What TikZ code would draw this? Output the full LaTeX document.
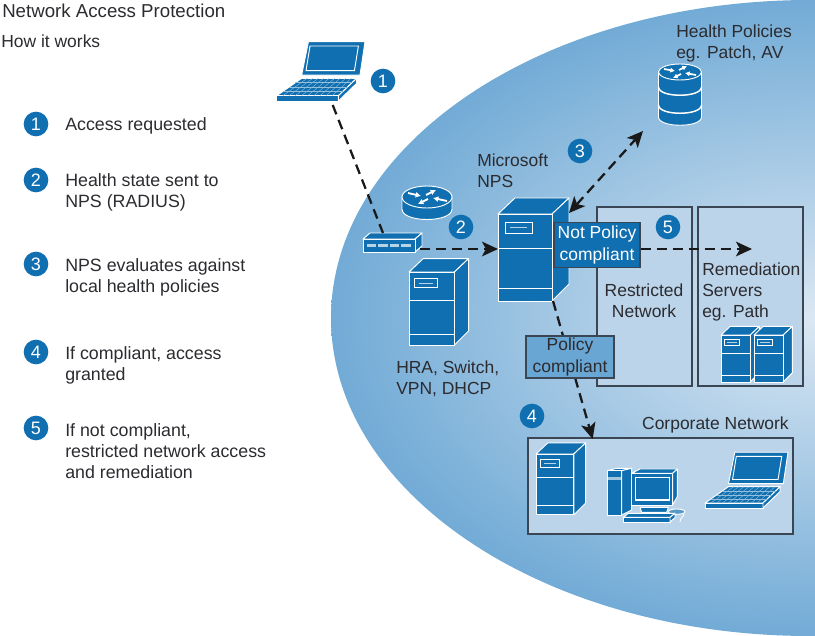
\documentclass[tikz,border=0pt]{standalone}
\usepackage{fontspec}
\setmainfont{Liberation Sans}
\usepackage{xcolor}
\usepackage{tikz}
\usetikzlibrary{arrows.meta}
\definecolor{devblue}{HTML}{0F6FB0}
\definecolor{netfill}{HTML}{BCD4EA}
\definecolor{capfill}{HTML}{6AA6D3}
\definecolor{hazeedge}{HTML}{72ABD6}
\definecolor{inkdark}{HTML}{2B2B30}
\definecolor{edgedark}{HTML}{3A4654}
\tikzset{
	txt/.style = {text=inkdark, font=\fontsize{13.1}{15.75}\selectfont, inner sep=0pt, align=left, yshift=-1.5pt},
	legendtxt/.style = {txt, anchor=west, font=\fontsize{13.35}{15.75}\selectfont},
	disc/.style = {circle, fill=devblue, text=white, minimum size=18.5pt, inner sep=0pt, font=\fontsize{13.5}{16}\selectfont},
	netbox/.style = {draw=edgedark, fill=netfill, line width=.9pt, inner sep=0pt},
	capbox/.style = {draw=edgedark, line width=1pt, inner sep=0pt, align=center, font=\fontsize{13.1}{16}\selectfont},
	dev/.style = {fill=devblue, draw=white, line width=.7pt, line join=round},
	dashline/.style = {draw=black!90, line width=1.7pt, dash pattern=on 7.5pt off 4.5pt},
	tip/.style = {-{Stealth[length=12pt,width=11pt,inset=3pt]}},
	tiptwo/.style = {{Stealth[length=12pt,width=11pt,inset=3pt]}-{Stealth[length=12pt,width=11pt,inset=3pt]}},
	towerbox/.pic = {
		\path[dev] (0,0) -- (17,-16) -- (71,-16) -- (54,0) -- cycle;
		\path[dev] (54,0) -- (71,-16) -- (71,70) -- (54,87) -- cycle;
		\path[dev] (0,0) rectangle (54,87);
		\draw[white, line width=.6pt] (0,34) -- (54,34) (0,74) -- (54,74);
		\draw[white, line width=.7pt] (7,8) rectangle (34,19);
		\draw[white!70!devblue, line width=.8pt] (12,13.5) -- (29,13.5);
		\coordinate (-west) at (0,35);
		\coordinate (-corner) at (71,-1);
		\coordinate (-south) at (55,87);
	},
	laptopbox/.pic = {
		\path[dev] (31.7,-59.3) -- (88.3,-59.3) -- (83.3,-26) -- (25,-26) -- cycle;
		\draw[white, line width=.7pt] (33.3,-55) -- (81.7,-55) -- (77.7,-30.3) -- (29.3,-30.3) -- cycle;
		\path[dev] (25,-22.7) -- (80,-22.7) -- (61.7,-5.3) -- (0,-5.3) -- cycle;
		\path[dev] (0,-5.3) -- (61.7,-5.3) -- (61.7,0) -- (0,0) -- cycle;
		\path[dev] (61.7,-5.3) -- (80,-22.7) -- (80,-17.7) -- (61.7,0) -- cycle;
		\foreach \rowk in {.25,.5,.75}
			\draw[white!55!devblue, line width=.3pt] ({25-25*\rowk},{-22.7+17.4*\rowk}) -- ({80-18.3*\rowk},{-22.7+17.4*\rowk});
		\foreach \colk in {.1,.2,...,.9}
			\draw[white!55!devblue, line width=.3pt] ({25+55*\colk},-22.7) -- ({61.7*\colk},-5.3);
		\coordinate (-south) at (56,4);
	},
	routerbox/.pic = {
		\path[dev] (-25,0) -- (-25,12) .. controls (-25,26) and (25,26) .. (25,12) -- (25,0) -- cycle;
		\path[dev] (0,0) ellipse [x radius=25, y radius=11];
		\draw[white, line width=1.4pt, -{Latex[length=4pt,width=4.5pt]}] (-19,-4) -- (-6,-1);
		\draw[white, line width=1.4pt, -{Latex[length=4pt,width=4.5pt]}] (-1,-2) -- (9,-7);
		\draw[white, line width=1.4pt, -{Latex[length=4pt,width=4.5pt]}] (20,4) -- (6,1);
		\draw[white, line width=1.4pt, -{Latex[length=4pt,width=4.5pt]}] (1,2) -- (-9,7);
	},
	policybox/.pic = {
		\path[dev] (-21.5,0) -- (-21.5,45) .. controls (-21.5,56) and (21.5,56) .. (21.5,45) -- (21.5,0) -- cycle;
		\path[dev] (0,0) ellipse [x radius=21.5, y radius=8];
		\draw[white, line width=1.1pt] (-21.5,15) .. controls (-21.5,26) and (21.5,26) .. (21.5,15);
		\draw[white, line width=1.1pt] (-21.5,33) .. controls (-21.5,44) and (21.5,44) .. (21.5,33);
		\draw[white, line width=1.3pt, -{Latex[length=3.5pt,width=4pt]}] (-16,-3) -- (-5,-1);
		\draw[white, line width=1.3pt, -{Latex[length=3.5pt,width=4pt]}] (-1,-2) -- (7,-6);
		\draw[white, line width=1.3pt, -{Latex[length=3.5pt,width=4pt]}] (16,3) -- (5,1);
		\draw[white, line width=1.3pt, -{Latex[length=3.5pt,width=4pt]}] (1,2) -- (-7,6);
	},
	switchbox/.pic = {
		\path[dev] (0,0) -- (7,-6) -- (59,-6) -- (52,0) -- cycle;
		\path[dev] (52,0) -- (59,-6) -- (59,7) -- (52,13) -- cycle;
		\path[dev] (0,0) rectangle (52,13);
		\foreach \slotx in {3.5,15,26.5,38}
			\fill[white!70!devblue] (\slotx,5) rectangle ++(9.5,2.6);
		\coordinate (-north) at (20,-6);
		\coordinate (-east) at (57,10);
	},
	desktopbox/.pic = {
		\path[dev] (262,212) -- (290,205) -- (335,205) -- (305,212) -- cycle;
		\path[dev] (305,212) -- (335,205) -- (335,330) -- (305,345) -- cycle;
		\path[dev] (262,212) rectangle (305,345);
		\fill[white!60!devblue] (264,230) rectangle (303,240);
		\path[dev] (335,220) -- (360,207) -- (472,207) -- (458,220) -- cycle;
		\path[dev] (458,220) -- (472,207) -- (472,290) -- (458,315) -- cycle;
		\path[dev] (335,220) rectangle (458,315);
		\draw[white, line width=.8pt] (347,232) rectangle (449,300);
		\path[dev] (360,322) -- (445,322) -- (440,337) -- (365,337) -- cycle;
		\path[dev, fill=white!30!devblue] (470,335) ellipse [x radius=25, y radius=8];
		\draw[white, line width=.6pt] (492,340) .. controls (495,350) and (480,350) .. (480,366);
		\path[dev] (325,340) -- (465,340) -- (450,352) -- (310,352) -- cycle;
		\path[dev] (310,352) rectangle (450,366);
		\path[dev] (450,352) -- (465,340) -- (465,353) -- (450,366) -- cycle;
	},
}

\begin{document}
\begin{tikzpicture}[x=.75pt, y=-.75pt]
	\useasboundingbox (0,0) rectangle (815,636);
	\begin{scope}
		\clip (0,0) rectangle (815,636);
		\shade[inner color=netfill!55!white, outer color=hazeedge] (810,318) ellipse [x radius=479, y radius=318];
	\end{scope}

	\node[netbox, minimum width=71.25pt, minimum height=134.25pt] (restricted) at (644.5,296.5) {};
	\node[netbox, minimum width=78.75pt, minimum height=134.25pt] (remediation) at (750.5,296.5) {};
	\node[netbox, minimum width=198.75pt, minimum height=72pt] (corporate) at (660.5,486) {};

	\pic (hostlaptop) at (276.7,101) {laptopbox};
	\pic (edgerouter) at (427,197) {routerbox};
	\pic (edgeswitch) at (363,239) {switchbox};
	\pic[scale=.84] (hra) at (409,272) {towerbox};
	\pic (nps) at (498,214) {towerbox};
	\pic (policystore) at (680,72) {policybox};
	\pic[scale=.54] at (721,335) {towerbox};
	\pic[scale=.54] at (754,335) {towerbox};
	\pic[scale=.7] at (536,454) {towerbox};
	\pic[scale=.3333] at (520,400) {desktopbox};
	\pic[scale=.94] at (705,508) {laptopbox};

	\coordinate (storetip) at (643,131);
	\coordinate (corptip) at (592.7,439);
	\coordinate (servertip) at (752,249);
	\draw[dashline] (hostlaptop-south) -- (edgeswitch-north);
	\draw[dashline, tip] (edgeswitch-east) -- (nps-west);
	\draw[dashline, tiptwo] (nps-corner) -- (storetip);
	\draw[dashline, tip] (nps-south) -- (corptip);

	\node[capbox, fill=devblue, text=white, minimum width=64.5pt, minimum height=33.75pt] (notcompliant) at (597,245) {Not Policy\\compliant};
	\node[capbox, fill=capfill, text=inkdark, minimum width=66pt, minimum height=31.5pt] (compliant) at (570,357) {Policy\\compliant};
	\draw[dashline, tip] (servertip -| notcompliant.east) -- (servertip);

	\node[disc] (n1) at (383,81) {1};
	\node[disc] (n2) at (461,227) {2};
	\node[disc] (n3) at (580,151) {3};
	\node[disc] (n4) at (532,416) {4};
	\node[disc] (n5) at (668,227) {5};

	\node[txt, anchor=west] (msnps) at (477,169) {Microsoft\\NPS};
	\node[txt, anchor=west] (healthpol) at (676,41) {Health Policies\\eg. Patch, AV};
	\node[txt, anchor=west] (hralabel) at (396,377) {HRA, Switch,\\VPN, DHCP};
	\node[txt, align=center] (restrictedlabel) at (644,299) {Restricted\\Network};
	\node[txt, anchor=west] (remedlabel) at (702,290) {Remediation\\Servers\\eg. Path};
	\node[txt, anchor=east] (corplabel) at (789,423) {Corporate Network};

	\node[txt, anchor=west, font=\fontsize{14}{16}\selectfont] (title) at (2,8.5) {Network Access Protection};
	\node[txt, anchor=west] (subtitle) at (1,39) {How it works};

	\node[disc] (s1) at (36,124) {1};
	\node[disc] (s2) at (36,180) {2};
	\node[disc] (s3) at (36,264) {3};
	\node[disc] (s4) at (36,352) {4};
	\node[disc] (s5) at (36,428) {5};
	\node[legendtxt] (t1) at (65,124) {Access requested};
	\node[legendtxt] (t2) at (65,190) {Health state sent to\\NPS (RADIUS)};
	\node[legendtxt] (t3) at (65,275) {NPS evaluates against\\local health policies};
	\node[legendtxt] (t4) at (65,363) {If compliant, access\\granted};
	\node[legendtxt] (t5) at (65,449) {If not compliant,\\restricted network access\\and remediation};
\end{tikzpicture}
\end{document}
